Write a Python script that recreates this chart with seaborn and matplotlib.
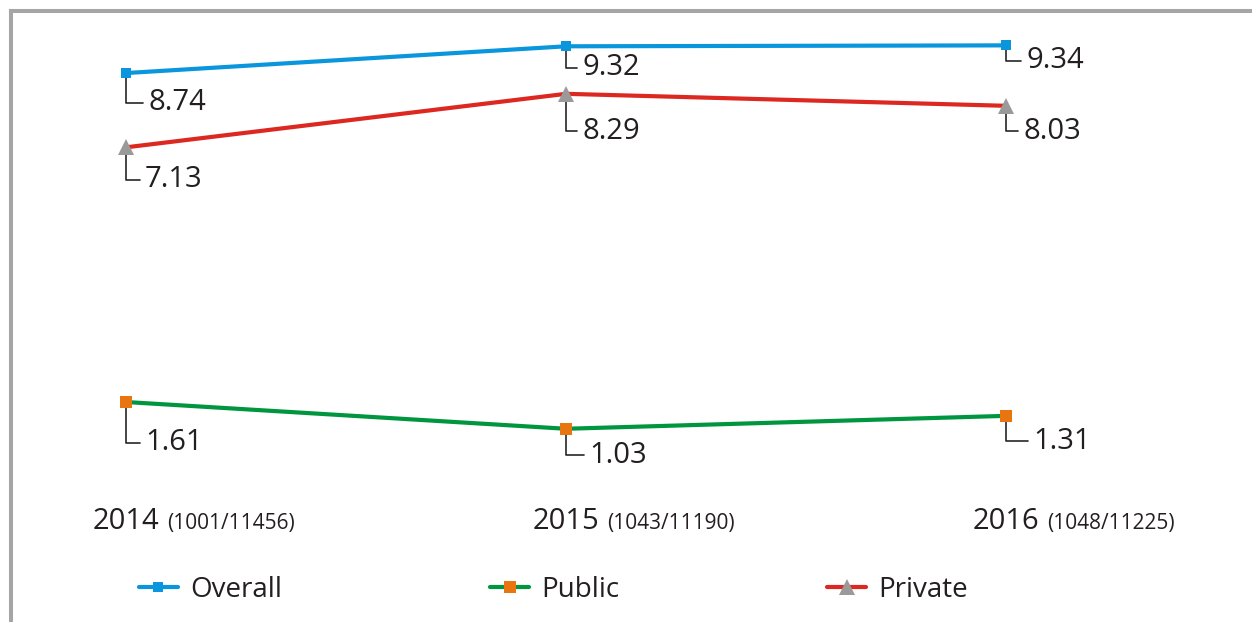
import matplotlib
matplotlib.use("Agg")
import matplotlib.pyplot as plt
import seaborn as sns

# Data
years = ["2014", "2015", "2016"]
counts = ["(1001/11456)", "(1043/11190)", "(1048/11225)"]
overall = [8.74, 9.32, 9.34]
public = [1.61, 1.03, 1.31]
private = [7.13, 8.29, 8.03]

# Label placement (pixels from marker to text left/baseline)
overall_offsets = [(22, -37), (16, -29), (20, -23)]
public_offsets = [(19, -48), (23, -34), (27, -33)]
private_offsets = [(19, -40), (16, -45), (17, -33)]

sns.set_theme(style="white")
plt.rcParams["font.family"] = ["Open Sans", "DejaVu Sans"]
TEXT = "#231f20"

W, H = 1252, 622
fig = plt.figure(figsize=(W / 100, H / 100), dpi=100)
ax = fig.add_axes([10.5 / W, 0, 1 - 10.5 / W, 1 - 11 / H])

xs = list(range(len(years)))

series = [
    ("Overall", overall, "#0a96dc", "s", 6.5, "#0a96dc", overall_offsets),
    ("Public", public, "#00963f", "s", 8.5, "#e8750f", public_offsets),
    ("Private", private, "#dc2820", "^", 12, "#9a9a9a", private_offsets),
]

for name, vals, color, marker, msize, mcolor, offsets in series:
    sns.lineplot(x=xs, y=vals, ax=ax, color=color, linewidth=3, marker=marker,
                 markersize=msize, markerfacecolor=mcolor, markeredgecolor=mcolor,
                 markeredgewidth=0, label=name, zorder=3)
    for x, v, (dx, dy) in zip(xs, vals, offsets):
        ax.annotate(f"{v:.2f}", xy=(x, v), xytext=(dx, dy), textcoords="offset pixels",
                    ha="left", va="baseline", fontsize=21, color=TEXT, zorder=1,
                    arrowprops=dict(arrowstyle="-", color="#262626", lw=1.2,
                                    connectionstyle="angle,angleA=0,angleB=90,rad=0",
                                    relpos=(0, 0.5), shrinkA=1.5, shrinkB=0))

# Category labels with sample sizes
for x, yr, cnt in zip(xs, years, counts):
    t = ax.text(x, -1.142, yr, ha="center", va="baseline", fontsize=21, color=TEXT)
    ax.annotate(cnt, xy=(1, -1.142), xycoords=(t, "data"), xytext=(8, 0),
                textcoords="offset pixels", ha="left", va="baseline",
                fontsize=15, color=TEXT)

ax.set_xlim(-0.2625, 2.559)
ax.set_ylim(-3.158, 10.085)
ax.set_xticks([])
ax.set_yticks([])
ax.set_xlabel("")
ax.set_ylabel("")

for side in ["right", "bottom"]:
    ax.spines[side].set_visible(False)
for side in ["left", "top"]:
    ax.spines[side].set_color("#a5a5a5")
    ax.spines[side].set_linewidth(2.9)

handles, labels = ax.get_legend_handles_labels()
ax.legend(handles, labels, loc="center left", bbox_to_anchor=(139 / W, (H - 590) / H),
          bbox_transform=fig.transFigure, ncol=3, frameon=False, fontsize=20,
          handlelength=1.4, handletextpad=0.43, columnspacing=7.5,
          borderpad=0, borderaxespad=0, labelcolor=TEXT)

fig.savefig("out.png", dpi=100)
